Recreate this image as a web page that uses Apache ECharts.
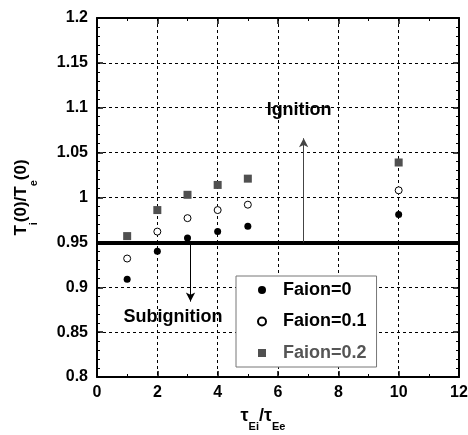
<!DOCTYPE html>
<html>
<head>
<meta charset="utf-8">
<script src="https://cdn.jsdelivr.net/npm/echarts@6/dist/echarts.min.js"></script>
<style>
html,body{margin:0;padding:0;background:#fff;}
#c{width:468px;height:435px;}
</style>
</head>
<body>
<div id="c"></div>
<script>
// ---- data ----
const tauRatio = [1, 2, 3, 4, 5, 10];
const faion0   = [0.909, 0.940, 0.955, 0.962, 0.968, 0.981];
const faion01  = [0.932, 0.962, 0.977, 0.986, 0.992, 1.008];
const faion02  = [0.957, 0.986, 1.003, 1.014, 1.021, 1.039];
const seriesNames = ['Faion=0', 'Faion=0.1', 'Faion=0.2'];
const threshold = 0.95;
const ignitionArrow = [[6.85, 0.95], [6.85, 1.066]];
const subignitionArrow = [[3.1, 0.95], [3.1, 0.884]];
const annotations = [['Ignition', 6.70, 1.0975], ['Subignition', 2.52, 0.867]];
const xTicks = [0, 2, 4, 6, 8, 10, 12];
const yTicks = [0.8, 0.85, 0.9, 0.95, 1, 1.05, 1.1, 1.15, 1.2];

const FF = '"Liberation Sans", Arial, Helvetica, sans-serif';
const chart = echarts.init(document.getElementById('c'), null, {renderer: 'canvas'});

function pts(ys) { return tauRatio.map((x, i) => [x, ys[i]]); }

const axisLine = {show: true, onZero: false, lineStyle: {color: '#000', width: 2}};
const axisTick = {show: true, inside: true, length: 6, lineStyle: {color: '#000', width: 1.5}};

const option = {
  animation: false,
  backgroundColor: '#fff',
  grid: {left: 97, right: 9, top: 18, bottom: 58, containLabel: false, outerBoundsMode: 'none'},
  xAxis: [
    {
      type: 'value', min: xTicks[0], max: xTicks[xTicks.length - 1], interval: 2, position: 'bottom',
      axisLine, axisTick,
      axisLabel: {fontFamily: FF, fontWeight: 'bold', fontSize: 16, color: '#000', margin: 8,
        formatter: v => String(xTicks.find(t => Math.abs(t - v) < 1e-6) ?? v)},
      minorTick: {show: true, splitNumber: 2, length: 3, lineStyle: {color: '#000', width: 1}},
      splitLine: {show: true, lineStyle: {color: '#000', width: 1, type: [3, 3]}},
      name: '{a|τ}{s|Ei}{a|/τ}{s|Ee}',
      nameLocation: 'middle', nameGap: 30,
      nameTextStyle: {padding: [0, 30, 0, 0], rich: {
        a: {fontFamily: FF, fontWeight: 'bold', fontSize: 18, color: '#000', lineHeight: 16, verticalAlign: 'top'},
        s: {fontFamily: FF, fontWeight: 'bold', fontSize: 11, color: '#000', lineHeight: 25, verticalAlign: 'bottom'}
      }}
    },
    {
      type: 'value', min: xTicks[0], max: xTicks[xTicks.length - 1], interval: 2, position: 'top',
      axisLine, axisTick,
      axisLabel: {show: false},
      minorTick: {show: true, splitNumber: 2, length: 3, lineStyle: {color: '#000', width: 1}},
      splitLine: {show: false}
    }
  ],
  yAxis: [
    {
      type: 'value', min: yTicks[0], max: yTicks[yTicks.length - 1], interval: 0.05, position: 'left',
      axisLine, axisTick,
      axisLabel: {fontFamily: FF, fontWeight: 'bold', fontSize: 16, color: '#000', margin: 9,
        formatter: v => { const t = yTicks.find(t => Math.abs(t - v) < 1e-6); return String(t ?? v); }},
      minorTick: {show: true, splitNumber: 5, length: 3, lineStyle: {color: '#000', width: 1}},
      splitLine: {show: true, lineStyle: {color: '#000', width: 1, type: [3, 3]}},
      name: '{a|T}{s|i}{a|(0)/T}{s|e}{a|(0)}',
      nameLocation: 'middle', nameRotate: 90, nameGap: 58,
      nameTextStyle: {rich: {
        a: {fontFamily: FF, fontWeight: 'bold', fontSize: 17, color: '#000', lineHeight: 16, verticalAlign: 'top'},
        s: {fontFamily: FF, fontWeight: 'bold', fontSize: 11, color: '#000', lineHeight: 26, verticalAlign: 'bottom'}
      }}
    },
    {
      type: 'value', min: yTicks[0], max: yTicks[yTicks.length - 1], interval: 0.05, position: 'right',
      axisLine, axisTick,
      axisLabel: {show: false},
      minorTick: {show: true, splitNumber: 5, length: 3, lineStyle: {color: '#000', width: 1}},
      splitLine: {show: false}
    }
  ],
  legend: {
    data: [
      {name: seriesNames[0], textStyle: {color: '#000'}},
      {name: seriesNames[1], textStyle: {color: '#000'}},
      {name: seriesNames[2], textStyle: {color: '#555'}}
    ],
    orient: 'vertical', left: 236, top: 276,
    backgroundColor: '#fff', borderColor: '#777', borderWidth: 1, borderRadius: 0,
    padding: [4, 10, 4, 21],
    itemWidth: 8, itemHeight: 8, itemGap: 11.5,
    textStyle: {fontFamily: FF, fontWeight: 'bold', fontSize: 18, lineHeight: 20, padding: [0, 0, 0, 12]},
    z: 10
  },
  series: [
    {
      name: 'threshold', type: 'line', data: [], silent: true, z: 3,
      markLine: {silent: true, symbol: ['none', 'none'], label: {show: false},
        lineStyle: {color: '#000', width: 4, type: 'solid'},
        data: [{yAxis: threshold}]}
    },
    {
      name: 'arrows', type: 'line', data: [], silent: true, z: 3,
      markLine: {silent: true, label: {show: false}, symbolSize: [7, 9],
        data: [
          [{coord: ignitionArrow[0], symbol: 'none', lineStyle: {color: '#444', width: 1, type: 'solid'}},
           {coord: ignitionArrow[1], symbol: 'arrow'}],
          [{coord: subignitionArrow[0], symbol: 'none', lineStyle: {color: '#000', width: 1, type: 'solid'}},
           {coord: subignitionArrow[1], symbol: 'arrow'}]
        ]}
    },
    {
      name: 'labels', type: 'scatter', symbol: 'circle', symbolSize: 2, silent: true, z: 4,
      itemStyle: {color: 'rgba(0,0,0,0)', opacity: 1},
      data: annotations.map(a => ({value: [a[1], a[2]], label: {formatter: a[0]}})),
      label: {show: true, position: 'inside', fontFamily: FF, fontWeight: 'bold', fontSize: 18, color: '#000'}
    },
    {
      name: seriesNames[0], type: 'scatter', data: pts(faion0), symbol: 'circle', symbolSize: 7, z: 5,
      itemStyle: {color: '#000', opacity: 1}
    },
    {
      name: seriesNames[1], type: 'scatter', data: pts(faion01), symbol: 'circle', symbolSize: 7, z: 5,
      itemStyle: {color: '#fff', borderColor: '#000', borderWidth: 1, opacity: 1}
    },
    {
      name: seriesNames[2], type: 'scatter', data: pts(faion02), symbol: 'rect', symbolSize: 8, z: 5,
      itemStyle: {color: '#505050', opacity: 1}
    }
  ]
};
chart.setOption(option);
</script>
</body>
</html>
